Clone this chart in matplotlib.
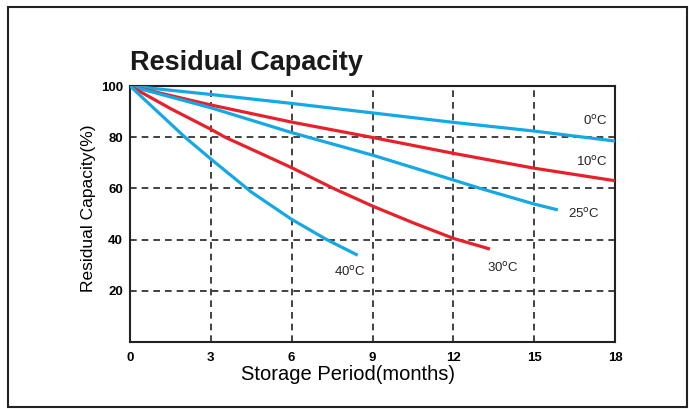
import matplotlib.pyplot as plt
from matplotlib.patches import Rectangle

plt.rcParams['font.family'] = ['Liberation Sans', 'DejaVu Sans']

# storage period (months) and residual capacity (%)
months_0c = [0, 3, 6, 9, 12, 15, 18]
cap_0c = [100, 96.7, 93.2, 89.5, 85.8, 82.4, 78.5]

months_10c = [0, 3, 6, 9, 12, 15, 18]
cap_10c = [100, 92.6, 85.9, 79.9, 73.7, 67.9, 63.0]

months_25c = [0, 3, 6, 9, 12, 13, 15, 15.88]
cap_25c = [100, 91.5, 81.8, 73.0, 63.3, 60.0, 53.9, 51.6]

months_30c = [0, 1.5, 3, 3.53, 6, 7.55, 9, 10.5, 12, 13.36]
cap_30c = [100, 91.2, 83.1, 80.0, 68.1, 60.0, 53.1, 46.6, 40.5, 36.3]

months_40c = [0, 2.04, 3, 4.5, 6, 7.3, 8.45]
cap_40c = [100, 80.0, 71.5, 58.6, 47.9, 40.0, 33.9]

labels = ['0$^{\\rm o}$C', '10$^{\\rm o}$C', '25$^{\\rm o}$C', '30$^{\\rm o}$C', '40$^{\\rm o}$C']
label_pos = [(17.25, 86.4), (17.15, 70.2), (16.85, 50.2), (13.85, 29.0), (8.15, 27.5)]

blue = '#14a9e4'
red = '#e8202a'

fig = plt.figure(figsize=(6.89, 4.09), dpi=100)
ax = fig.add_axes([0.1887, 0.1638, 0.7039, 0.6259])

series = [(months_0c, cap_0c, blue), (months_10c, cap_10c, red),
          (months_25c, cap_25c, blue), (months_30c, cap_30c, red),
          (months_40c, cap_40c, blue)]
for x, y, c in series:
    ax.plot(x, y, color=c, lw=2.3, solid_capstyle='butt', solid_joinstyle='round', zorder=3)

for (lx, ly), lab in zip(label_pos, labels):
    ax.text(lx, ly, lab, fontsize=9.5, ha='center', va='center', color='#222222')

ax.set_xlim(0, 18)
ax.set_ylim(0, 100)
ax.set_xticks([0, 3, 6, 9, 12, 15, 18])
ax.set_yticks([20, 40, 60, 80, 100])
ax.tick_params(length=0, labelsize=9.5)
ax.tick_params(axis='y', pad=5)
ax.tick_params(axis='x', pad=7)
for t in ax.get_xticklabels() + ax.get_yticklabels():
    t.set_fontweight('bold')

for v in [3, 6, 9, 12, 15]:
    ax.axvline(v, color='#222222', lw=1.2, dashes=(4, 3), zorder=1)
for v in [20, 40, 60, 80]:
    ax.axhline(v, color='#222222', lw=1.2, dashes=(4, 3), zorder=1)

for s in ax.spines.values():
    s.set_linewidth(1.5)
    s.set_color('#222222')

ax.set_xlabel('Storage Period(months)', fontsize=14.5)
ax.xaxis.set_label_coords(0.45, -0.09)
ax.set_ylabel('Residual Capacity(%)', fontsize=12.5)
ax.yaxis.set_label_coords(-0.07, 0.523)

fig.text(0.1887, 0.83, 'Residual Capacity', fontsize=19.5, fontweight='bold',
         ha='left', va='baseline', color='#1a1a1a')

fig.patches.append(Rectangle((8 / 689, 2 / 409), 679 / 689, 400 / 409,
                             transform=fig.transFigure, fill=False,
                             lw=1.5, ec='#222222'))

plt.savefig('out.png', dpi=100)
